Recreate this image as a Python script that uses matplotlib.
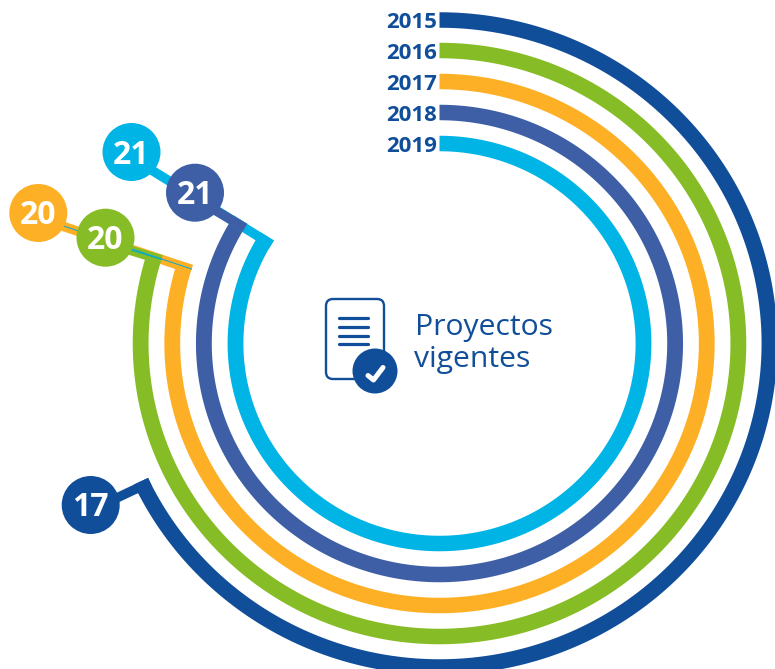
import numpy as np
import matplotlib
matplotlib.use("Agg")
import matplotlib.pyplot as plt
from matplotlib.patches import Circle, FancyBboxPatch, Polygon

years = ["2015", "2016", "2017", "2018", "2019"]
values = [17, 20, 20, 21, 21]
colors = ["#114e9a", "#86bc25", "#fdb025", "#3e5fa5", "#00b5e6"]
full_scale = 25
title_lines = ["Proyectos", "vigentes"]

# layout (pixels)
W, H = 775, 669
cx, cy = 439.5, 343.5
radii = [323.5, 293, 262, 231, 200]
label_baselines = [28, 59, 90, 121, 152]
xstretch = 1.02
ring_w = 15.5
band_w = 9.5
bubble_r = 29
bubbles = [(90.7, 505), (105.5, 237.7), (38.3, 213), (195, 192.7), (131.5, 152)]
NAVY = "#114e9a"

fig = plt.figure(figsize=(W / 100, H / 100), dpi=100)
ax = fig.add_axes([0, 0, 1, 1])
ax.set_xlim(0, W)
ax.set_ylim(H, 0)
ax.axis("off")
fam = ["Open Sans", "DejaVu Sans"]

def pt(r, a):
    return np.array([cx + xstretch * r * np.sin(a), cy - r * np.cos(a)])

for i in [0, 4, 3, 2, 1]:
    r, v, c = radii[i], values[i], colors[i]
    end = 2 * np.pi * v / full_scale
    t = np.linspace(0, end, 400)
    outer = np.array([pt(r + ring_w / 2, a) for a in t])
    inner = np.array([pt(r - ring_w / 2, a) for a in t])[::-1]
    ax.add_patch(Polygon(np.vstack([outer, inner]), closed=True, fc=c, ec="none", zorder=2))
    # leader band from the ring's inner tip to the bubble
    tip = pt(r - ring_w / 2, end)
    C = np.array(bubbles[i])
    d = (tip - C) / np.linalg.norm(tip - C)
    n = np.array([-d[1], d[0]])
    side = n if np.dot(n, pt(r, end - 0.02) - tip) > 0 else -n
    band = [C, tip, tip + side * band_w, C + side * band_w]
    ax.add_patch(Polygon(band, closed=True, fc=c, ec="none", zorder=3))
    if i in (1, 2):
        m = C + side * band_w * 0.45
        e = tip + side * band_w * 0.45
        ax.plot([m[0], e[0]], [m[1], e[1]], color="#00a9d8", lw=0.7, zorder=3.1)
    ax.add_patch(Circle(C, bubble_r, fc=c, ec="none", zorder=3.2))
    ax.text(C[0], C[1] + 11.5, str(v), color="white", fontsize=23, fontweight="bold",
            family=fam, ha="center", va="baseline", zorder=3.3)
    ax.text(437, label_baselines[i], years[i], color=NAVY, fontsize=16, fontweight="bold",
            family=fam, ha="right", va="baseline", zorder=4)

# centre icon
ax.add_patch(FancyBboxPatch((326, 299), 58, 80, boxstyle="round,pad=0,rounding_size=7",
                            fc="white", ec=NAVY, lw=1.7, zorder=5))
for y in (318, 327, 335.7, 344):
    ax.plot([338.5, 368], [y, y], color=NAVY, lw=2.3, solid_capstyle="round", zorder=6)
ax.add_patch(Circle((375, 371), 22.5, fc=NAVY, ec="none", zorder=7))
ax.plot([368, 373.5, 383], [375.5, 380, 367.5], color="white", lw=3.6,
        solid_capstyle="round", solid_joinstyle="round", zorder=8)

ax.text(414.5, 335, title_lines[0], color=NAVY, fontsize=21.7, family=fam, ha="left", va="baseline")
ax.text(414.5, 367, title_lines[1], color=NAVY, fontsize=21.7, family=fam, ha="left", va="baseline")

fig.savefig("out.png", dpi=100)
